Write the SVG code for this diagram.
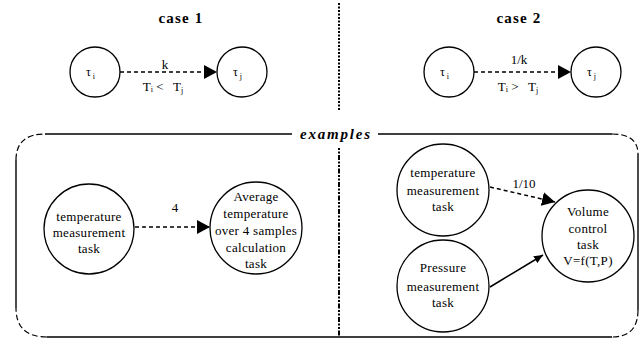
<svg xmlns="http://www.w3.org/2000/svg" width="642" height="339" viewBox="0 0 642 339">
<style>
text{font-family:"Liberation Serif","Times New Roman",serif;fill:#000}
.title{font-size:15px;font-weight:bold;letter-spacing:1.2px}
.ex{font-size:15px;font-weight:bold;font-style:italic;letter-spacing:1.8px}
.node{fill:#fff;stroke:#000;stroke-width:1.3}
.nt{font-size:13px;text-anchor:middle;letter-spacing:0.3px}
.lbl{font-size:13px;text-anchor:middle}
.tau{font-size:12px}
.sub{font-size:8px}
.dash{fill:none;stroke:#000;stroke-width:1.5;stroke-dasharray:4 3}
.solid{fill:none;stroke:#000;stroke-width:1.6}
</style>
<defs>
<marker id="big" markerUnits="userSpaceOnUse" markerWidth="14" markerHeight="14" refX="13" refY="7" orient="auto"><path d="M0,0 L13,7 L0,14 Z" fill="#000"/></marker>
<marker id="small" markerUnits="userSpaceOnUse" markerWidth="10" markerHeight="8" refX="9" refY="4" orient="auto"><path d="M0,0 L9,4 L0,8 Z" fill="#000"/></marker>
</defs>

<g id="titles">
<text class="title" x="181" y="23" text-anchor="middle">case 1</text>
<text class="title" x="519" y="23" text-anchor="middle">case 2</text>
</g>

<g id="frame">
<line x1="339" y1="3" x2="339" y2="110" stroke="#000" stroke-width="2" stroke-dasharray="2 1.5"/>
<line x1="339" y1="148" x2="339" y2="336" stroke="#000" stroke-width="2" stroke-dasharray="2 1.5 2 1.5 5 1.5"/>
<path d="M45,134 H292 M378,134 H612 M638,154 V310 M612,337 H47 M16,308 V160" fill="none" stroke="#000" stroke-width="1.4"/>
<path d="M16,160 Q16,134 45,134 M612,134 Q638,134 638,154 M638,310 Q638,337 612,337 M47,337 Q16,337 16,308" fill="none" stroke="#000" stroke-width="1.2" stroke-dasharray="6 3"/>
<text class="ex" x="336" y="139" text-anchor="middle">examples</text>
</g>

<g id="connectors">
<line class="dash" x1="120" y1="72" x2="217" y2="72" marker-end="url(#big)"/>
<line class="dash" x1="474" y1="72" x2="571" y2="72" marker-end="url(#big)"/>
<line class="dash" x1="135" y1="227" x2="210" y2="227" marker-end="url(#big)"/>
<line class="dash" x1="490" y1="187" x2="555" y2="202" marker-end="url(#big)"/>
<line class="solid" x1="490" y1="287" x2="543" y2="255" marker-end="url(#small)"/>
<text class="lbl" x="165" y="69">k</text>
<text class="lbl" x="163" y="91" xml:space="preserve">T<tspan class="sub" dy="1">i</tspan><tspan dy="-1"> &lt;   </tspan>T<tspan class="sub" dy="2">j</tspan></text>
<text class="lbl" x="519" y="64">1/k</text>
<text class="lbl" x="518" y="91" xml:space="preserve">T<tspan class="sub" dy="1">i</tspan><tspan dy="-1"> &gt;   </tspan>T<tspan class="sub" dy="2">j</tspan></text>
<text class="lbl" x="175" y="212">4</text>
<text class="lbl" x="524" y="188">1/10</text>
</g>

<g id="c1-ti"><circle class="node" cx="95" cy="72" r="25"/><text class="tau" x="86" y="76">τ<tspan class="sub" dx="2" dy="3">i</tspan></text></g>
<g id="c1-tj"><circle class="node" cx="242" cy="72" r="25"/><text class="tau" x="233" y="76">τ<tspan class="sub" dx="2" dy="3">j</tspan></text></g>
<g id="c2-ti"><circle class="node" cx="449" cy="72" r="25"/><text class="tau" x="440" y="76">τ<tspan class="sub" dx="2" dy="3">i</tspan></text></g>
<g id="c2-tj"><circle class="node" cx="596" cy="72" r="25"/><text class="tau" x="587" y="76">τ<tspan class="sub" dx="2" dy="3">j</tspan></text></g>

<g id="ex1-temp"><circle class="node" cx="89" cy="229" r="45"/>
<text class="nt" x="89" y="221">temperature</text><text class="nt" x="89" y="237">measurement</text><text class="nt" x="89" y="253">task</text></g>
<g id="ex1-avg"><circle class="node" cx="256" cy="228" r="46"/>
<text class="nt" x="256" y="201">Average</text><text class="nt" x="256" y="217.5">temperature</text><text class="nt" x="256" y="235">over 4 samples</text><text class="nt" x="256" y="251.5">calculation</text><text class="nt" x="256" y="268">task</text></g>
<g id="ex2-temp"><circle class="node" cx="443" cy="190" r="46"/>
<text class="nt" x="443" y="177">temperature</text><text class="nt" x="443" y="195">measurement</text><text class="nt" x="443" y="211">task</text></g>
<g id="ex2-press"><circle class="node" cx="443" cy="286" r="46"/>
<text class="nt" x="443" y="272">Pressure</text><text class="nt" x="443" y="291">measurement</text><text class="nt" x="443" y="307">task</text></g>
<g id="ex2-vol"><circle class="node" cx="588" cy="236" r="46"/>
<text class="nt" x="588" y="216">Volume</text><text class="nt" x="588" y="233">control</text><text class="nt" x="588" y="249">task</text><text class="nt" x="588" y="265">V=f(T,P)</text></g>
</svg>
